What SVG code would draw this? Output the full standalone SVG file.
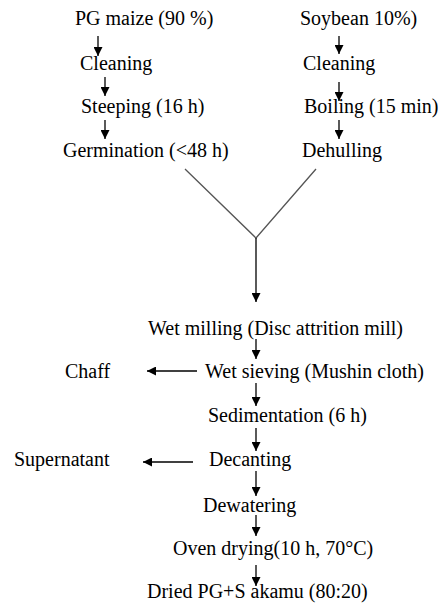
<svg xmlns="http://www.w3.org/2000/svg" width="440" height="607" viewBox="0 0 440 607">
<style>
text{font-family:"Liberation Serif","Times New Roman",serif;font-size:20px;fill:#000}
.c{stroke:#000;stroke-width:1.3;fill:none}
.v{stroke:#555;stroke-width:1.3;fill:none}
</style>
<defs>
<marker id="ah" markerUnits="userSpaceOnUse" markerWidth="9" markerHeight="9" refX="9" refY="4.5" orient="auto">
<path d="M0,0 L9,4.5 L0,9 z" fill="#000"/>
</marker>
</defs>
<rect width="440" height="607" fill="#fff"/>
<g id="connectors">
<line class="c" x1="98" y1="36" x2="98" y2="56" marker-end="url(#ah)"/>
<line class="c" x1="105" y1="77" x2="105" y2="96" marker-end="url(#ah)"/>
<line class="c" x1="105" y1="120" x2="105" y2="139" marker-end="url(#ah)"/>
<line class="c" x1="339" y1="36" x2="339" y2="54" marker-end="url(#ah)"/>
<line class="c" x1="339" y1="82" x2="339" y2="101" marker-end="url(#ah)"/>
<line class="c" x1="339" y1="120" x2="339" y2="139" marker-end="url(#ah)"/>
<polyline class="v" points="185,169 256,238 316,169"/>
<line class="c" x1="256" y1="238" x2="256" y2="302" marker-end="url(#ah)"/>
<line class="c" x1="256" y1="339" x2="256" y2="359" marker-end="url(#ah)"/>
<line class="c" x1="197" y1="371" x2="147" y2="371" marker-end="url(#ah)"/>
<line class="c" x1="256" y1="383" x2="256" y2="406" marker-end="url(#ah)"/>
<line class="c" x1="256" y1="428" x2="256" y2="451" marker-end="url(#ah)"/>
<line class="c" x1="193" y1="462" x2="143" y2="462" marker-end="url(#ah)"/>
<line class="c" x1="256" y1="471" x2="256" y2="496" marker-end="url(#ah)"/>
<line class="c" x1="256" y1="515" x2="256" y2="536" marker-end="url(#ah)"/>
<line class="c" x1="256" y1="565" x2="256" y2="586" marker-end="url(#ah)"/>
</g>
<g id="pg-maize"><text x="75" y="25">PG maize (90 %)</text></g>
<g id="cleaning-left"><text x="80" y="70">Cleaning</text></g>
<g id="steeping"><text x="81" y="113">Steeping (16 h)</text></g>
<g id="germination"><text x="63" y="157">Germination (&lt;48 h)</text></g>
<g id="soybean"><text x="300" y="25">Soybean 10%)</text></g>
<g id="cleaning-right"><text x="303" y="70">Cleaning</text></g>
<g id="boiling"><text x="304" y="113">Boiling (15 min)</text></g>
<g id="dehulling"><text x="302" y="157">Dehulling</text></g>
<g id="wet-milling"><text x="148" y="335">Wet milling (Disc attrition mill)</text></g>
<g id="wet-sieving"><text x="205" y="378">Wet sieving (Mushin cloth)</text></g>
<g id="chaff"><text x="65" y="378">Chaff</text></g>
<g id="sedimentation"><text x="208" y="422">Sedimentation (6 h)</text></g>
<g id="decanting"><text x="209" y="466">Decanting</text></g>
<g id="supernatant"><text x="14" y="466">Supernatant</text></g>
<g id="dewatering"><text x="203" y="512">Dewatering</text></g>
<g id="oven-drying"><text x="173" y="555">Oven drying(10 h, 70°C)</text></g>
<g id="dried"><text x="147" y="598">Dried PG+S akamu (80:20)</text></g>
</svg>
